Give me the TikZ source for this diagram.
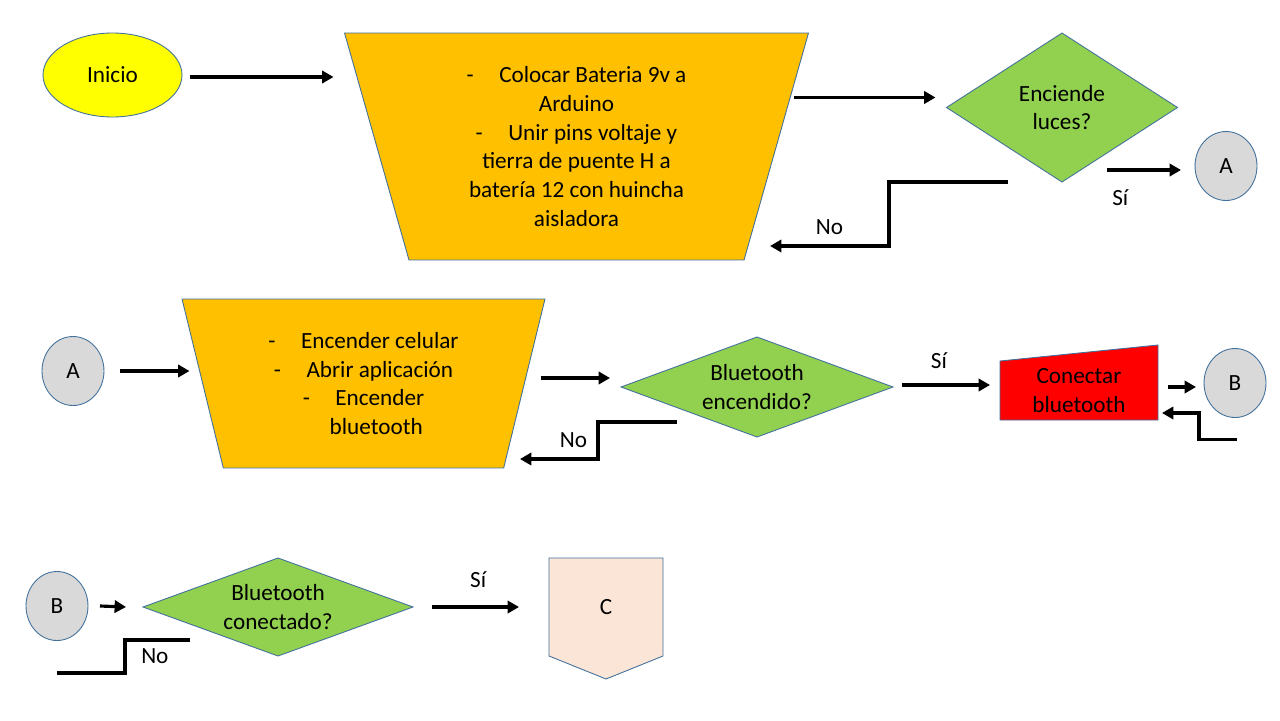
\documentclass[tikz,border=0pt]{standalone}
\usepackage{fontspec}
\setmainfont{Carlito}
\usetikzlibrary{arrows.meta,shapes.geometric,calc,backgrounds}
\definecolor{ylw}{HTML}{FFFF00}
\definecolor{gold}{HTML}{FFC000}
\definecolor{grn}{HTML}{92D050}
\definecolor{gry}{HTML}{D9D9D9}
\definecolor{peach}{HTML}{FBE5D6}
\definecolor{edge}{HTML}{41719C}
\newcommand{\itm}{-\hspace{1.1em}}

\begin{document}
\begin{tikzpicture}[x=0.02cm,y=-0.02cm,font=\fontsize{13.2pt}{16.3pt}\selectfont,
 arr/.style={line width=1.8pt,-{Triangle[length=6.5pt,width=7pt]}},
 wire/.style={line width=1.8pt},
 box/.style={draw=edge,line width=.5pt,align=center,inner sep=0pt,outer sep=0pt},
 term/.style={box,ellipse,fill=ylw},
 link/.style={box,ellipse,fill=gry,minimum width=1.24cm,minimum height=1.38cm},
 task/.style={box,trapezium,shape border rotate=180,trapezium left angle=68,trapezium right angle=68,trapezium stretches body,fill=gold},
 ask/.style={box,diamond,fill=grn}]
\node[term,minimum width=2.78cm,minimum height=1.68cm] (ini) at (112.5,75) {Inicio};
\node[task,minimum width=9.28cm,minimum height=4.54cm] (t1) at (576.5,146.5) {\itm Colocar Bateria 9v a\\Arduino\\\itm Unir pins voltaje y\\tierra de puente H a\\batería 12 con huincha\\aisladora};
\node[ask,aspect=1.55,minimum width=4.62cm,minimum height=2.98cm] (d1) at (1062,107.5) {Enciende\\luces?};
\node[link] (a1) at (1226,166) {A};
\node[link] (a2) at (73,371) {A};
\node[task,minimum width=7.26cm,minimum height=3.38cm] (t2) at (363.5,383.5) {\itm Encender celular\\\itm Abrir aplicación\\\itm Encender\\\hspace{1.1em}bluetooth};
\node[ask,aspect=2.7,minimum width=5.44cm,minimum height=2cm] (d2) at (757,387) {Bluetooth\\encendido?};
\node[box,draw=none,minimum width=3.16cm,minimum height=1.18cm] (con) at (1079,390.5) {Conectar\\bluetooth};
\node[link] (b1) at (1235,383) {B};
\node[link] (b2) at (57,606) {B};
\node[ask,aspect=2.7,minimum width=5.4cm,minimum height=1.96cm] (d3) at (278,607) {Bluetooth\\conectado?};
\node[box,draw=none,minimum width=2.28cm,minimum height=1.96cm] (c) at (606,607) {C};

\draw[arr] ($(ini.east)+(8,2)$) -- ($(t1.center |- ini.east)+(-243,2)$);
\draw[arr] ($(t1.center |- d1.west)+(217,-10)$) -- ($(d1.west)+(-11,-10)$);
\draw[arr] ($(d1.center |- a1.west)+(45,4)$) -- node[pos=.18,below=7pt] {Sí} ($(a1.west)+(-14,4)$);
\draw[arr] ($(d1.south)+(-54,0)$) -- ++(-119,0) -- ++(0,64) -- node[above=2pt] {No} ++(-119,0);
\draw[arr] ($(a2.east)+(16,0)$) -- ($(t2.center |- a2.east)+(-174,0)$);
\draw[arr] ($(t2.center |- d2.west)+(177,-9)$) -- ($(d2.west)+(-11,-9)$);
\draw[arr] ($(d2.east)+(9,-2)$) -- node[pos=.42,above=5pt] {Sí} ($(con.west |- d2.east)+(-10,-2)$);
\draw[arr] ($(con.east |- b1.west)+(10,4)$) -- ($(b1.west)+(-8,4)$);
\draw[arr] ($(b1.south)+(2,22)$) -- ++(-38,0) |- ($(con.south east)+(4,-7)$);
\draw[arr] ($(d2.south)+(-80,-15)$) -- ++(-79,0) -- node[left=2pt] {No} ++(0,37) -- ++(-78,0);
\draw[arr] ($(b2.east)+(12,0)$) -- ($(d3.west)+(-17,0)$);
\draw[arr] ($(d3.east)+(19,0)$) -- node[pos=.53,above=7pt] {Sí} ($(c.west |- d3.east)+(-30,0)$);
\draw[wire] ($(d3.west)+(47,33)$) -- ++(-65,0) -- node[right=5pt] {No} ++(0,33) -- ++(-68,0);

\begin{scope}[on background layer]
\fill[white] (0,0) rectangle (1280,720);
\filldraw[draw=edge,line width=.5pt,fill=red] (con.south west) -- (con.south east) -- ($(con.north east)+(0,-16)$) -- (con.north west) -- cycle;
\filldraw[draw=edge,line width=.5pt,fill=peach] (c.north west) -- (c.north east) -- (c.south east) -- ($(c.south)+(0,23)$) -- (c.south west) -- cycle;
\end{scope}
\end{tikzpicture}
\end{document}
